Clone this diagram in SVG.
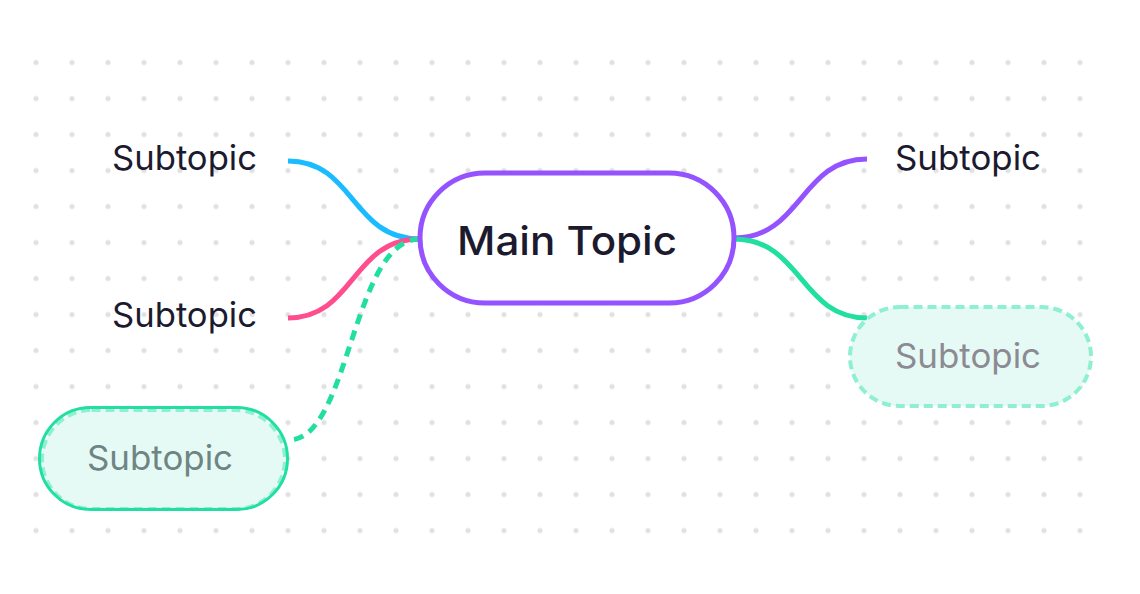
<svg xmlns="http://www.w3.org/2000/svg" width="1140" height="594" viewBox="0 0 1140 594">
<defs>
<pattern id="dots" patternUnits="userSpaceOnUse" x="18" y="44.5" width="36" height="36">
<circle cx="18" cy="18" r="2.6" fill="#e1e1e1"/>
</pattern>
<style>
.sub{font-family:"Inter","Liberation Sans",sans-serif;font-size:34px;fill:#1c1a2e}
.main{font-family:"Inter","Liberation Sans",sans-serif;font-size:40px;font-weight:500;fill:#1c1a2e}
.ghost{fill:#8c8a92}
.ghost2{fill:#6e8583}
.conn{fill:none;stroke-width:5;stroke-linecap:butt}
.pill{fill:#e6faf5;stroke:#8eefd1;stroke-width:4;stroke-dasharray:9 5}
</style>
</defs>
<rect width="1140" height="594" fill="#ffffff"/>
<rect x="18" y="44.5" width="1080" height="504" fill="url(#dots)"/>
<g id="connectors">
<path class="conn" stroke="#1bbcff" d="M288,161 C355,161 351,239 420,239"/>
<path class="conn" stroke="#ff4d8d" d="M288,318 C355,318 351,239 420,239"/>
<path class="conn" stroke="#20dfa0" stroke-dasharray="10 7" d="M420,239 C352,239 350,440 289,440"/>
<path class="conn" stroke="#9552ff" d="M734,238 C802,238 800,159 867,159"/>
<path class="conn" stroke="#20dfa0" d="M734,239 C802,239 800,318 867,318"/>
</g>
<g id="main-topic">
<rect x="420" y="173" width="314" height="130" rx="65" fill="#ffffff" stroke="#9552ff" stroke-width="5"/>
<text class="main" x="457" y="255" textLength="220" lengthAdjust="spacingAndGlyphs">Main Topic</text>
</g>
<g id="subtopic-left-1">
<text class="sub" x="112" y="170" textLength="145" lengthAdjust="spacingAndGlyphs">Subtopic</text>
</g>
<g id="subtopic-left-2">
<text class="sub" x="112" y="327" textLength="145" lengthAdjust="spacingAndGlyphs">Subtopic</text>
</g>
<g id="subtopic-left-3">
<rect class="pill" x="42" y="410" width="243" height="99" rx="49.5"/>
<rect x="39.5" y="407.5" width="248" height="102" rx="51" fill="none" stroke="#20dfa0" stroke-width="3"/>
<text class="sub ghost2" x="87" y="470" textLength="146" lengthAdjust="spacingAndGlyphs">Subtopic</text>
</g>
<g id="subtopic-right-1">
<text class="sub" x="895" y="170" textLength="146" lengthAdjust="spacingAndGlyphs">Subtopic</text>
</g>
<g id="subtopic-right-2">
<rect class="pill" x="850" y="307" width="241" height="99" rx="49.5"/>
<text class="sub ghost" x="895" y="368" textLength="146" lengthAdjust="spacingAndGlyphs">Subtopic</text>
</g>
</svg>
